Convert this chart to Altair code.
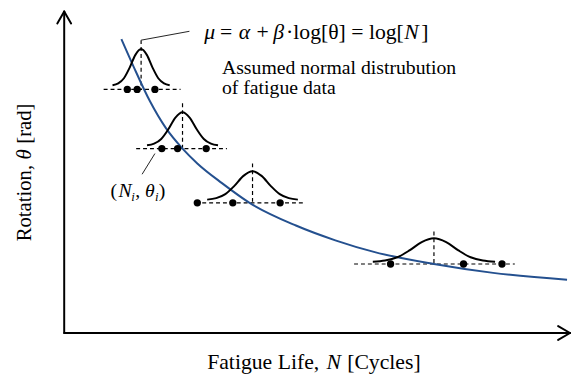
import altair as alt
import pandas as pd

# ---------------- data (schematic units, origin at the axes corner) ----------------
# fitted S-N type curve
curve_N = [58, 70, 87, 103, 120, 135, 160, 188, 235, 275, 315, 375, 435, 510]
curve_theta = [298, 271, 235, 208, 187, 172, 152, 132, 109, 94, 82, 70, 61, 54]

# assumed normal distributions at four rotation levels
bell_center = [78, 120, 191, 375]
bell_base = [251, 190, 135, 72]
bell_half = [29, 36, 46, 62]
bell_height = [37, 34, 29, 24]
bell_level = [247, 187, 132, 70]
bell_level_from = [40, 73, 133, 294]
bell_level_to = [118, 165, 245, 457]
bell_mean_top = [297, 233, 172, 103]
bell_points = [[64, 74, 92], [99, 115, 144], [135, 171, 219], [331, 405, 444]]

# normalised bell profile (offset in half-widths, fraction of peak height)
profile_d = [-1, -0.8, -0.6, -0.4, -0.2, 0, 0.2, 0.4, 0.6, 0.8, 1]
profile_h = [0.01, 0.06, 0.2, 0.49, 0.84, 1, 0.84, 0.49, 0.2, 0.06, 0.01]

# ---------------- tables ----------------
curve_df = pd.DataFrame({"x": curve_N, "y": curve_theta})

bell_rows = []
for i in range(len(bell_center)):
    for d, h in zip(profile_d, profile_h):
        bell_rows.append({"bell": i,
                          "x": bell_center[i] + d * bell_half[i],
                          "y": bell_base[i] + h * bell_height[i]})
bell_df = pd.DataFrame(bell_rows)

dot_rows = []
for i, xs in enumerate(bell_points):
    for xv in xs:
        dot_rows.append({"x": xv, "y": bell_level[i]})
dot_df = pd.DataFrame(dot_rows)

dash_rows = []
for i in range(len(bell_center)):
    dash_rows.append({"x": bell_level_from[i], "y": bell_level[i],
                      "x2": bell_level_to[i], "y2": bell_level[i]})
    dash_rows.append({"x": bell_center[i], "y": bell_mean_top[i],
                      "x2": bell_center[i], "y2": bell_level[i]})
dash_df = pd.DataFrame(dash_rows)

axis_df = pd.DataFrame([
    {"x": 0, "y": 0, "x2": 0, "y2": 326},
    {"x": -7, "y": 314, "x2": 0, "y2": 326},
    {"x": 7, "y": 314, "x2": 0, "y2": 326},
    {"x": 0, "y": 0, "x2": 513, "y2": 0},
    {"x": 501, "y": 7, "x2": 513, "y2": 0},
    {"x": 501, "y": -7, "x2": 513, "y2": 0},
])

leader_df = pd.DataFrame([
    {"x": 78, "y": 297, "x2": 127, "y2": 306},
    {"x": 92, "y": 182, "x2": 79, "y2": 161},
])

text_df = pd.DataFrame([
    # formula
    {"x": 142, "y": 298, "t": "μ", "s": "italic", "fs": 22, "a": 0},
    {"x": 158, "y": 298, "t": "=", "s": "normal", "fs": 22, "a": 0},
    {"x": 177, "y": 298, "t": "α", "s": "italic", "fs": 22, "a": 0},
    {"x": 195, "y": 298, "t": "+", "s": "normal", "fs": 22, "a": 0},
    {"x": 212, "y": 298, "t": "β", "s": "italic", "fs": 22, "a": 0},
    {"x": 225, "y": 298, "t": "·log[θ] = log[", "s": "normal", "fs": 22, "a": 0},
    {"x": 345, "y": 298, "t": "N", "s": "italic", "fs": 22, "a": 0},
    {"x": 362, "y": 298, "t": "]", "s": "normal", "fs": 22, "a": 0},
    # note
    {"x": 160, "y": 263, "t": "Assumed normal distrubution", "s": "normal", "fs": 20, "a": 0},
    {"x": 160, "y": 242, "t": "of fatigue data", "s": "normal", "fs": 20, "a": 0},
    # data point label
    {"x": 47, "y": 138, "t": "(", "s": "normal", "fs": 20, "a": 0},
    {"x": 55, "y": 138, "t": "N", "s": "italic", "fs": 20, "a": 0},
    {"x": 68, "y": 134, "t": "i", "s": "italic", "fs": 13, "a": 0},
    {"x": 72, "y": 138, "t": ",", "s": "normal", "fs": 20, "a": 0},
    {"x": 82, "y": 138, "t": "θ", "s": "italic", "fs": 20, "a": 0},
    {"x": 92, "y": 134, "t": "i", "s": "italic", "fs": 13, "a": 0},
    {"x": 96, "y": 138, "t": ")", "s": "normal", "fs": 20, "a": 0},
    # axis titles
    {"x": 145, "y": -37, "t": "Fatigue Life,", "s": "normal", "fs": 22, "a": 0},
    {"x": 266, "y": -37, "t": "N", "s": "italic", "fs": 22, "a": 0},
    {"x": 287, "y": -37, "t": "[Cycles]", "s": "normal", "fs": 22, "a": 0},
    {"x": -34, "y": 93, "t": "Rotation,", "s": "normal", "fs": 21, "a": 270},
    {"x": -34, "y": 176, "t": "θ", "s": "italic", "fs": 21, "a": 270},
    {"x": -34, "y": 192, "t": "[rad]", "s": "normal", "fs": 21, "a": 270},
])

# ---------------- chart ----------------
xs = alt.Scale(domain=[-57, 514], nice=False, zero=False)
ys = alt.Scale(domain=[-42, 327], nice=False, zero=False)
X = alt.X("x:Q", scale=xs, axis=None)
Y = alt.Y("y:Q", scale=ys, axis=None)

SERIF = "'Liberation Serif', 'Times New Roman', Times, serif"

axes = alt.Chart(axis_df).mark_rule(color="black", strokeWidth=2, strokeCap="round").encode(
    x=X, y=Y, x2="x2:Q", y2="y2:Q")
dashes = alt.Chart(dash_df).mark_rule(color="black", strokeWidth=1.2, strokeDash=[4, 3]).encode(
    x=X, y=Y, x2="x2:Q", y2="y2:Q")
leaders = alt.Chart(leader_df).mark_rule(color="#222222", strokeWidth=1).encode(
    x=X, y=Y, x2="x2:Q", y2="y2:Q")
curve = alt.Chart(curve_df).mark_line(color="#24508f", strokeWidth=2, interpolate="monotone").encode(
    x=X, y=Y)
bells = alt.Chart(bell_df).mark_line(color="black", strokeWidth=2, interpolate="monotone").encode(
    x=X, y=Y, detail="bell:N")
dots = alt.Chart(dot_df).mark_circle(color="black", size=55, opacity=1).encode(x=X, y=Y)

def text_layer(style):
    return alt.Chart(text_df).transform_filter(alt.datum.s == style).mark_text(
        font=SERIF, fontStyle=style, align="left", baseline="alphabetic",
        color="black").encode(
        x=X, y=Y, text="t:N",
        size=alt.Size("fs:Q", scale=None),
        angle=alt.Angle("a:Q", scale=None))

chart = alt.layer(
    axes, dashes, leaders, curve, bells, dots,
    text_layer("normal"), text_layer("italic")
).properties(
    width=571, height=369, padding=0, autosize=alt.AutoSizeParams(type="none")
).configure_view(stroke=None)

chart.save("out.html", embed_options={"renderer": "svg", "actions": False})
